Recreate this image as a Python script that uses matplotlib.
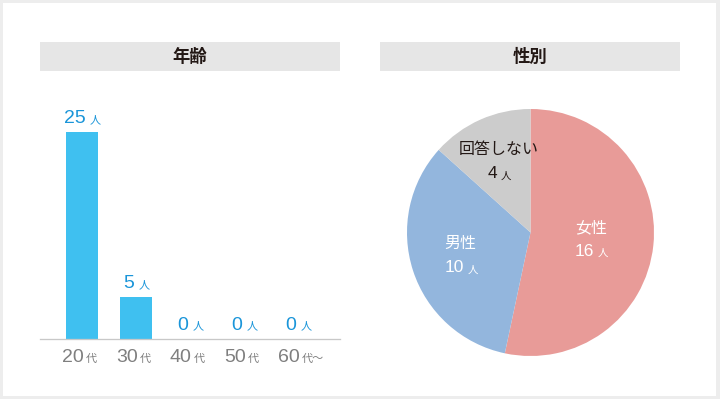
import matplotlib
matplotlib.use('Agg')
import matplotlib.pyplot as plt
from matplotlib.patches import Rectangle
import numpy as np

W, H = 720, 399

# ---- data ----
titles = ['年齢', '性別']
age_categories = ['20', '30', '40', '50', '60']
age_suffix = ['代', '代', '代', '代', '代〜']
age_counts = [25, 5, 0, 0, 0]
gender_labels = ['女性', '男性', '回答しない']
gender_counts = [16, 10, 4]
unit = '人'

# ---- style ----
CJK = ['Noto Sans CJK JP', 'DejaVu Sans']
NUM = ['Liberation Sans', 'DejaVu Sans']
BAR_COLOR = '#3fc0f0'
VAL_COLOR = '#1a95d9'
TICK_COLOR = '#7f7f7f'
DARK = '#231815'
PIE_COLORS = ['#e89b98', '#93b6dd', '#cccccc']
PIE_TEXT = ['white', 'white', DARK]
PIE_DIST = [0.49, 0.60, 0.63]
PT = 72 / 100  # px -> points

fig = plt.figure(figsize=(W / 100, H / 100), dpi=100)
fig.patch.set_facecolor('#ededed')


def fx(x):
    return x / W


def fy(y):
    return 1 - y / H


# white card
fig.add_artist(Rectangle((fx(3), fy(396)), 713 / W, 393 / H, transform=fig.transFigure,
                         facecolor='white', edgecolor='none', zorder=0))

# header bars
for (x0, x1), t in zip([(40, 340), (380, 680)], titles):
    fig.add_artist(Rectangle((fx(x0), fy(71)), (x1 - x0) / W, 29 / H, transform=fig.transFigure,
                             facecolor='#e6e6e6', edgecolor='none', zorder=1))
    fig.text(fx((x0 + x1) / 2), fy(56.5), t, ha='center', va='center', fontsize=12.5,
             fontweight='bold', color=DARK, family=CJK, zorder=2)

# ---- bar chart ----
base_y = 338.5
px_per_unit = 8.26
top_y = 100
ax = fig.add_axes([fx(40), fy(base_y), 300 / W, (base_y - top_y) / H])
ax.set_facecolor('none')
x = np.arange(len(age_counts))
ax.bar(x, age_counts, width=32 / 54, color=BAR_COLOR, zorder=2)
ax.set_xlim((40 - 82) / 54, (340 - 82) / 54)
ax.set_ylim(0, (base_y - top_y) / px_per_unit)
for s in ['top', 'left', 'right']:
    ax.spines[s].set_visible(False)
ax.spines['bottom'].set_color('#c8c8c8')
ax.spines['bottom'].set_linewidth(1.3 * PT)
ax.set_xticks([])
ax.set_yticks([])

for i, v in enumerate(age_counts):
    n = len(str(v))
    dw, gap, kw = 11, 4, 10
    w = n * dw + gap + kw
    numright = -w / 2 + n * dw
    kleft = numright + gap
    ax.annotate(str(v), xy=(i, v), xytext=(numright * PT, 9 * PT), textcoords='offset points',
                ha='right', va='baseline', fontsize=14, color=VAL_COLOR, family=NUM,
                annotation_clip=False)
    ax.annotate(unit, xy=(i, v), xytext=(kleft * PT, 9 * PT), textcoords='offset points',
                ha='left', va='baseline', fontsize=8, color=VAL_COLOR, family=CJK,
                annotation_clip=False)

for i, (c, s) in enumerate(zip(age_categories, age_suffix)):
    ax.annotate(c, xy=(i, 0), xytext=(1.5 * PT, -23.5 * PT), textcoords='offset points',
                ha='right', va='baseline', fontsize=14, color=TICK_COLOR, family=NUM,
                annotation_clip=False)
    ax.annotate(s, xy=(i, 0), xytext=(3.5 * PT, -23.5 * PT), textcoords='offset points',
                ha='left', va='baseline', fontsize=8, color=TICK_COLOR, family=CJK,
                annotation_clip=False)

# ---- pie chart ----
cx, cy, R = 530.5, 232.5, 123.5
pax = fig.add_axes([fx(cx - R), fy(cy + R), 2 * R / W, 2 * R / H])
wedges, _ = pax.pie(gender_counts, colors=PIE_COLORS, startangle=90, counterclock=False,
                    radius=1, wedgeprops=dict(linewidth=0))
pax.set_xlim(-1, 1)
pax.set_ylim(-1, 1)
pax.set_aspect('equal')
pax.axis('off')

for wdg, lab, v, d, col in zip(wedges, gender_labels, gender_counts, PIE_DIST, PIE_TEXT):
    th = np.deg2rad((wdg.theta1 + wdg.theta2) / 2)
    p = (d * np.cos(th), d * np.sin(th))
    pax.annotate(lab, xy=p, xytext=(0, 11.5 * PT), textcoords='offset points',
                 ha='center', va='center', fontsize=11.5, color=col, family=CJK,
                 annotation_clip=False)
    n = len(str(v))
    dw, gap, kw = 10, 3.5, 9
    w = n * dw + gap + kw
    numright = -w / 2 + n * dw
    kleft = numright + gap
    pax.annotate(str(v), xy=p, xytext=(numright * PT, -17 * PT), textcoords='offset points',
                 ha='right', va='baseline', fontsize=12.5, color=col, family=NUM,
                 annotation_clip=False)
    pax.annotate(unit, xy=p, xytext=(kleft * PT, -17 * PT), textcoords='offset points',
                 ha='left', va='baseline', fontsize=7.5, color=col, family=CJK,
                 annotation_clip=False)

fig.savefig('out.png', dpi=100, facecolor=fig.get_facecolor())
